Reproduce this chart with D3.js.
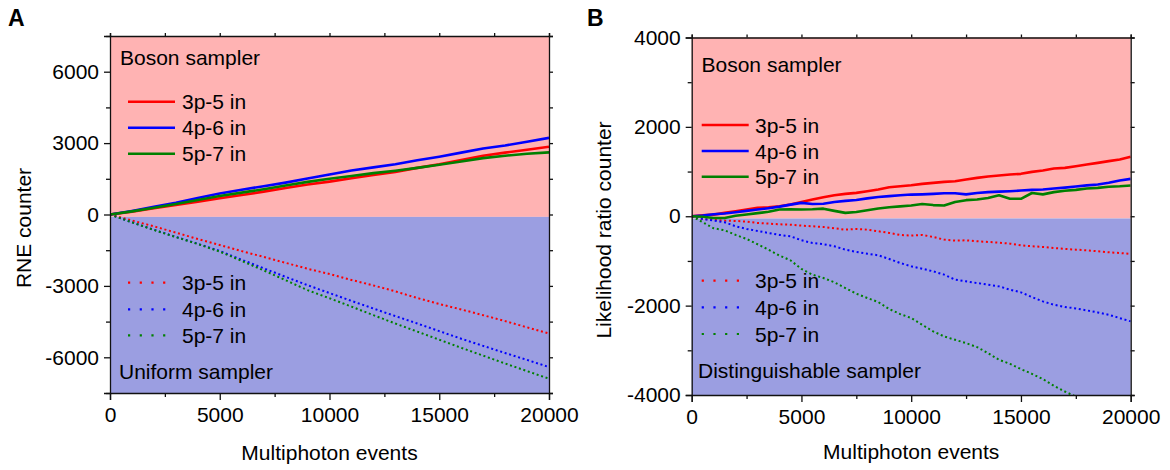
<!DOCTYPE html>
<html>
<head>
<meta charset="utf-8">
<script src="https://cdn.jsdelivr.net/npm/d3@7"></script>
<style>
  body { margin: 0; background: #fff; }
  svg { font-family: "Liberation Sans", Arial, sans-serif; }
</style>
</head>
<body>
<div id="container"></div>
<script>
/* DATA */
const seriesNames = ["3p-5 in", "4p-6 in", "5p-7 in"];
const seriesColors = ["#ff0000", "#0000ff", "#008000"];

// panel A: RNE counter, sampled every 1000 events
const eventsA = [0, 1000, 2000, 3000, 4000, 5000, 6000, 7000, 8000, 9000, 10000,
  11000, 12000, 13000, 14000, 15000, 16000, 17000, 18000, 19000, 20000];
const rneBoson3 = [0, 120, 260, 400, 540, 680, 820, 960, 1110, 1260, 1380, 1520, 1660, 1790, 1960, 2110, 2290, 2470, 2600, 2720, 2850];
const rneBoson4 = [0, 150, 320, 490, 690, 880, 1040, 1190, 1340, 1510, 1680, 1850, 1980, 2110, 2280, 2430, 2600, 2770, 2900, 3060, 3220];
const rneBoson5 = [0, 130, 280, 440, 610, 780, 920, 1060, 1220, 1370, 1500, 1620, 1740, 1840, 1960, 2090, 2230, 2370, 2470, 2550, 2610];
const rneUniform3 = [0, -250, -500, -760, -1030, -1280, -1540, -1780, -2030, -2280, -2500, -2750, -2980, -3230, -3510, -3760, -3990, -4230, -4480, -4740, -5000];
const rneUniform4 = [0, -330, -640, -940, -1230, -1530, -1900, -2260, -2620, -2970, -3300, -3630, -3950, -4270, -4580, -4900, -5220, -5520, -5820, -6110, -6410];
const rneUniform5 = [0, -330, -650, -950, -1240, -1560, -1950, -2350, -2760, -3180, -3520, -3870, -4230, -4580, -4920, -5260, -5600, -5930, -6260, -6580, -6900];

// panel B: likelihood ratio counter, sampled every 500 events
const eventsB = [0, 500, 1000, 1500, 2000, 2500, 3000, 3500, 4000, 4500, 5000, 5500, 6000, 6500, 7000, 7500,
  8000, 8500, 9000, 9500, 10000, 10500, 11000, 11500, 12000, 12500, 13000, 13500, 14000, 14500, 15000,
  15500, 16000, 16500, 17000, 17500, 18000, 18500, 19000, 19500, 20000];
const lrBoson3 = [0, 22, 37, 75, 112, 150, 187, 200, 224, 261, 321, 374, 426, 471, 500, 523, 560, 598, 650, 672,
  695, 725, 747, 769, 784, 822, 859, 889, 911, 934, 949, 993, 1023, 1068, 1083, 1120, 1158, 1195, 1233, 1270, 1330];
const lrBoson4 = [0, 15, 45, 60, 90, 120, 150, 180, 215, 260, 300, 275, 280, 320, 345, 365, 400, 430, 450, 470,
  485, 490, 500, 515, 515, 490, 520, 540, 550, 560, 575, 590, 600, 620, 640, 665, 690, 710, 750, 800, 837];
const lrBoson5 = [0, -10, -40, -40, 10, 40, 70, 100, 150, 155, 150, 155, 170, 120, 75, 95, 135, 175, 200, 220,
  240, 275, 250, 240, 320, 360, 375, 410, 470, 390, 390, 520, 490, 540, 570, 590, 620, 635, 660, 670, 688];
const lrDist3 = [0, -60, -82, -97, -105, -120, -150, -165, -180, -190, -210, -225, -240, -270, -300, -285, -300, -336, -374, -418,
  -433, -418, -463, -523, -545, -538, -560, -575, -590, -613, -650, -672, -687, -710, -732, -747, -762, -784, -807, -822, -844];
const lrDist4 = [0, -60, -97, -135, -224, -284, -329, -374, -418, -448, -538, -598, -627, -672, -747, -799, -837, -874, -956, -1046,
  -1120, -1173, -1233, -1307, -1419, -1457, -1494, -1531, -1569, -1643, -1703, -1808, -1905, -1980, -2032, -2062, -2107, -2152, -2204, -2279, -2353];
// 5p-7 leaves the plot below -4000 after ~17500 events
const lrDist5 = [0, -134, -269, -314, -418, -508, -627, -747, -880, -986, -1180, -1307, -1382, -1479, -1606, -1733, -1830, -1920, -2077, -2189,
  -2278, -2428, -2577, -2689, -2764, -2839, -2928, -3063, -3212, -3302, -3421, -3526, -3645, -3795, -3922, -4034, null, null, null, null, null];

// tick values
const xMajorTicks = [0, 5000, 10000, 15000, 20000];
const xMinorTicks = [2500, 7500, 12500, 17500];
const yMajorTicksA = [-6000, -3000, 0, 3000, 6000];
const yMinorTicksA = [-7500, -4500, -1500, 1500, 4500, 7500];
const yMajorTicksB = [-4000, -2000, 0, 2000, 4000];
const yMinorTicksB = [-3000, -1000, 1000, 3000];

/* CONSTANTS */
const width = 1170, height = 470;
const pink = "#ffb3b3", lilac = "#9b9ee1", ink = "#111";

const svg = d3.select("#container").append("svg")
  .attr("width", width)
  .attr("height", height);

const panels = [
  {
    key: "A", left: 110, right: 549, top: 36, bottom: 393,
    yDomain: [-7500, 7500], split: -100,
    yMajor: yMajorTicksA, yMinor: yMinorTicksA,
    events: eventsA, upper: [rneBoson3, rneBoson4, rneBoson5], lower: [rneUniform3, rneUniform4, rneUniform5],
    yTitle: "RNE counter", yTitleX: 31, yTitleY: 228,
    labelX: 8, upperTitle: "Boson sampler", lowerTitle: "Uniform sampler",
    upperTitlePos: [120, 65], upperLegendY: [101.7, 127.7, 153.7],
    lowerLegendY: [282.7, 309.3, 335.3], lowerTitlePos: [119, 379],
    legendX: 128, legendTextX: 182, xTitleY: 460
  },
  {
    key: "B", left: 691.7, right: 1130.7, top: 37.5, bottom: 395,
    yDomain: [-4000, 4000], split: -50,
    yMajor: yMajorTicksB, yMinor: yMinorTicksB,
    events: eventsB, upper: [lrBoson3, lrBoson4, lrBoson5], lower: [lrDist3, lrDist4, lrDist5],
    yTitle: "Likelihood ratio counter", yTitleX: 611, yTitleY: 230,
    labelX: 587, upperTitle: "Boson sampler", lowerTitle: "Distinguishable sampler",
    upperTitlePos: [701.5, 72], upperLegendY: [125, 151, 176.7],
    lowerLegendY: [280.7, 307.3, 334], lowerTitlePos: [698, 378],
    legendX: 701.7, legendTextX: 755, xTitleY: 459
  }
];

panels.forEach(drawPanel);

function drawPanel(p) {
  const g = svg.append("g");

  const xScale = d3.scaleLinear().domain([0, 20000]).range([p.left, p.right]);
  const yScale = d3.scaleLinear().domain(p.yDomain).range([p.bottom, p.top]);

  // background regions
  g.append("rect")
    .attr("x", xScale(0)).attr("y", yScale(p.yDomain[1]))
    .attr("width", xScale(20000) - xScale(0))
    .attr("height", yScale(p.split) - yScale(p.yDomain[1]))
    .attr("fill", pink);
  g.append("rect")
    .attr("x", xScale(0)).attr("y", yScale(p.split))
    .attr("width", xScale(20000) - xScale(0))
    .attr("height", yScale(p.yDomain[0]) - yScale(p.split))
    .attr("fill", lilac);

  // clip
  const clipId = "clip" + p.key;
  svg.append("clipPath").attr("id", clipId)
    .append("rect")
    .attr("x", p.left).attr("y", p.top)
    .attr("width", p.right - p.left).attr("height", p.bottom - p.top);

  const line = d3.line()
    .defined(d => d[1] !== null)
    .x(d => xScale(d[0]))
    .y(d => yScale(d[1]));

  const lines = g.append("g").attr("clip-path", `url(#${clipId})`);

  p.lower.forEach((vals, i) => {
    lines.append("path")
      .datum(p.events.map((e, j) => [e, vals[j]]))
      .attr("d", line)
      .attr("fill", "none")
      .attr("stroke", seriesColors[i])
      .attr("stroke-width", 2)
      .attr("stroke-dasharray", "2,2.7");
  });
  p.upper.forEach((vals, i) => {
    lines.append("path")
      .datum(p.events.map((e, j) => [e, vals[j]]))
      .attr("d", line)
      .attr("fill", "none")
      .attr("stroke", seriesColors[i])
      .attr("stroke-width", 2.6)
      .attr("stroke-linejoin", "round");
  });

  // axes
  const fmt = d => String(d);
  const styleAxis = sel => {
    sel.selectAll("path, line").attr("stroke", ink).attr("stroke-width", 1.3);
    sel.selectAll("text").attr("fill", "#000").attr("font-size", 21)
      .attr("font-family", '"Liberation Sans", Arial, sans-serif');
  };

  g.append("g").attr("transform", `translate(0,${p.bottom})`)
    .call(d3.axisBottom(xScale).tickValues(xMajorTicks).tickSize(7).tickPadding(7).tickFormat(fmt))
    .call(styleAxis);
  g.append("g").attr("transform", `translate(0,${p.bottom})`)
    .call(d3.axisBottom(xScale).tickValues(xMinorTicks).tickSize(4).tickFormat(""))
    .call(sel => sel.select(".domain").remove())
    .call(styleAxis);

  g.append("g").attr("transform", `translate(0,${p.top})`)
    .call(d3.axisTop(xScale).tickValues(xMajorTicks.concat(xMinorTicks)).tickSize(3).tickFormat(""))
    .call(styleAxis);

  g.append("g").attr("transform", `translate(${p.left},0)`)
    .call(d3.axisLeft(yScale).tickValues(p.yMajor).tickSize(6).tickPadding(5).tickFormat(fmt))
    .call(styleAxis);
  g.append("g").attr("transform", `translate(${p.left},0)`)
    .call(d3.axisLeft(yScale).tickValues(p.yMinor).tickSize(4).tickFormat(""))
    .call(sel => sel.select(".domain").remove())
    .call(styleAxis);

  g.append("g").attr("transform", `translate(${p.right},0)`)
    .call(d3.axisRight(yScale).tickValues(p.yMajor.concat(p.yMinor)).tickSize(4).tickFormat(""))
    .call(styleAxis);

  // axis titles
  g.append("text")
    .attr("x", (p.left + p.right) / 2).attr("y", p.xTitleY)
    .attr("text-anchor", "middle").attr("font-size", 21)
    .text("Multiphoton events");
  g.append("text")
    .attr("transform", `translate(${p.yTitleX},${p.yTitleY}) rotate(-90)`)
    .attr("text-anchor", "middle").attr("font-size", 21)
    .text(p.yTitle);

  // panel letter
  g.append("text")
    .attr("x", p.labelX).attr("y", 26)
    .attr("font-size", 23).attr("font-weight", "bold")
    .text(p.key);

  // legends
  g.append("text")
    .attr("x", p.upperTitlePos[0]).attr("y", p.upperTitlePos[1])
    .attr("font-size", 21).text(p.upperTitle);
  g.append("text")
    .attr("x", p.lowerTitlePos[0]).attr("y", p.lowerTitlePos[1])
    .attr("font-size", 21).text(p.lowerTitle);

  seriesNames.forEach((name, i) => {
    const yu = p.upperLegendY[i];
    g.append("line")
      .attr("x1", p.legendX).attr("x2", p.legendX + 47)
      .attr("y1", yu).attr("y2", yu)
      .attr("stroke", seriesColors[i]).attr("stroke-width", 2.6);
    g.append("text")
      .attr("x", p.legendTextX).attr("y", yu + 7.5)
      .attr("font-size", 21).text(name);

    const yl = p.lowerLegendY[i];
    g.append("line")
      .attr("x1", p.legendX).attr("x2", p.legendX + 40)
      .attr("y1", yl).attr("y2", yl)
      .attr("stroke", seriesColors[i]).attr("stroke-width", 2.2)
      .attr("stroke-dasharray", "2.2,9.5");
    g.append("text")
      .attr("x", p.legendTextX).attr("y", yl + 7.5)
      .attr("font-size", 21).text(name);
  });
}
</script>
</body>
</html>
